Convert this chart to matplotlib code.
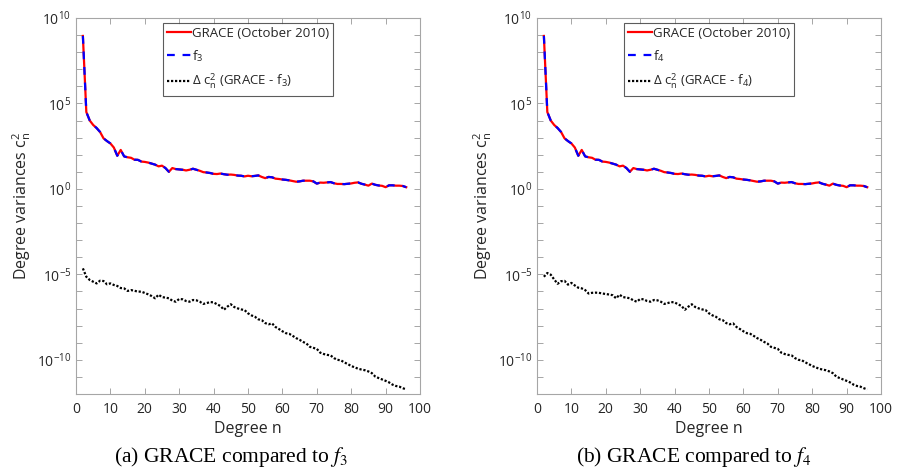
import numpy as np
import matplotlib
matplotlib.use("Agg")
import matplotlib.pyplot as plt
from matplotlib.ticker import FixedLocator, FuncFormatter

# Spherical harmonic degree
degrees = list(range(2, 97))

# log10 of the GRACE degree variances (October 2010)
grace_exp = [
    8.95, 4.50, 4.00, 3.74, 3.56, 3.33, 2.96, 2.80, 2.66, 2.42,
    1.94, 2.28, 1.90, 1.85, 1.82, 1.71, 1.70, 1.60, 1.58, 1.54,
    1.48, 1.42, 1.32, 1.36, 1.22, 1.00, 1.22, 1.16, 1.14, 1.12,
    1.08, 1.12, 1.18, 1.12, 1.06, 0.98, 0.96, 0.93, 0.88, 0.87,
    0.90, 0.86, 0.83, 0.84, 0.82, 0.78, 0.77, 0.73, 0.77, 0.74,
    0.76, 0.79, 0.70, 0.63, 0.70, 0.68, 0.60, 0.58, 0.55, 0.53,
    0.50, 0.46, 0.42, 0.44, 0.48, 0.48, 0.48, 0.44, 0.31, 0.37,
    0.36, 0.38, 0.40, 0.33, 0.29, 0.29, 0.28, 0.30, 0.32, 0.36,
    0.38, 0.30, 0.25, 0.19, 0.31, 0.24, 0.20, 0.18, 0.10, 0.21,
    0.21, 0.19, 0.19, 0.17, 0.10,
]

# Model degree variances (indistinguishable from GRACE at this scale)
f3_exp = list(grace_exp)
f4_exp = list(grace_exp)

# log10 of the difference degree variances
delta_f3_exp = [
    -4.65, -5.14, -5.33, -5.43, -5.53, -5.37, -5.39, -5.58, -5.53, -5.62,
    -5.68, -5.80, -5.82, -5.97, -5.92, -5.96, -6.01, -6.01, -6.09, -6.17,
    -6.27, -6.40, -6.19, -6.33, -6.36, -6.40, -6.54, -6.60, -6.44, -6.46,
    -6.56, -6.60, -6.50, -6.52, -6.60, -6.73, -6.68, -6.62, -6.64, -6.75,
    -6.85, -7.07, -6.89, -6.75, -6.91, -6.99, -7.05, -7.09, -7.28, -7.40,
    -7.48, -7.63, -7.68, -7.85, -7.92, -7.87, -8.08, -8.20, -8.33, -8.44,
    -8.48, -8.60, -8.73, -8.83, -8.95, -9.05, -9.24, -9.30, -9.36, -9.58,
    -9.66, -9.71, -9.74, -9.90, -10.00, -10.03, -10.15, -10.25, -10.36, -10.44,
    -10.52, -10.57, -10.61, -10.68, -10.78, -10.98, -11.07, -11.15, -11.23, -11.32,
    -11.45, -11.53, -11.57, -11.66, -11.73,
]

delta_f4_exp = [
    -5.14, -4.92, -5.02, -5.30, -5.55, -5.40, -5.38, -5.60, -5.50, -5.65,
    -5.78, -5.82, -5.92, -6.12, -6.08, -6.07, -6.08, -6.12, -6.15, -6.18,
    -6.22, -6.40, -6.19, -6.33, -6.36, -6.40, -6.52, -6.60, -6.44, -6.46,
    -6.56, -6.60, -6.50, -6.52, -6.60, -6.73, -6.68, -6.62, -6.64, -6.75,
    -6.85, -7.07, -6.89, -6.75, -6.91, -6.99, -7.05, -7.09, -7.28, -7.40,
    -7.48, -7.63, -7.68, -7.85, -7.92, -7.87, -8.08, -8.20, -8.33, -8.44,
    -8.48, -8.60, -8.73, -8.83, -8.95, -9.05, -9.24, -9.30, -9.36, -9.58,
    -9.66, -9.71, -9.74, -9.90, -10.00, -10.03, -10.15, -10.25, -10.36, -10.44,
    -10.52, -10.57, -10.61, -10.68, -10.78, -10.98, -11.07, -11.15, -11.23, -11.32,
    -11.45, -11.53, -11.57, -11.66, -11.73,
]

x_ticks = list(range(0, 101, 10))
y_decades = list(range(-12, 11))
y_labelled = [-10, -5, 0, 5, 10]

panels = [
    ("3", f3_exp, delta_f3_exp, "(a) GRACE compared to $f_3$"),
    ("4", f4_exp, delta_f4_exp, "(b) GRACE compared to $f_4$"),
]

plt.rcParams["font.family"] = ["Open Sans", "DejaVu Sans"]
plt.rcParams["mathtext.fontset"] = "stix"
plt.rcParams["axes.unicode_minus"] = False

TEXT = "#262626"
EDGE = "#a6a6a6"

fig = plt.figure(figsize=(8.97, 4.76), dpi=100)
lefts = [76 / 897, 537 / 897]
caption_x = [231 / 897, 694 / 897]


def decade_label(v, pos):
    k = int(round(np.log10(v)))
    if k in y_labelled:
        return r"$\mathregular{10^{%d}}$" % k
    return ""


for i, (idx, model_exp, delta_exp, caption) in enumerate(panels):
    ax = fig.add_axes([lefts[i], 1 - 394 / 476, 344 / 897, 376 / 476])
    n = np.array(degrees)
    ax.semilogy(n, 10.0 ** np.array(grace_exp), color="#ff0000", lw=1.6,
                label="GRACE (October 2010)")
    ax.semilogy(n, 10.0 ** np.array(model_exp), color="#0000ff", lw=1.6,
                dashes=(3.5, 3.5), label=r"f$_\mathregular{%s}$" % idx)
    ax.semilogy(n, 10.0 ** np.array(delta_exp), color="black", lw=1.6,
                dashes=(1, 0.8),
                label=r"Δ c$_\mathregular{n}^\mathregular{2}$ (GRACE - f$_\mathregular{%s}$)" % idx)

    ax.set_xlim(0, 100)
    ax.set_ylim(1e-12, 1e10)
    ax.xaxis.set_major_locator(FixedLocator(x_ticks))
    ax.yaxis.set_major_locator(FixedLocator([10.0 ** k for k in y_decades]))
    ax.yaxis.set_major_formatter(FuncFormatter(decade_label))
    ax.yaxis.set_minor_locator(FixedLocator([]))
    ax.tick_params(axis="both", which="both", direction="in", top=True,
                   right=True, length=4, width=0.7, color=EDGE,
                   labelcolor=TEXT, labelsize=10)
    ax.tick_params(axis="x", pad=6)
    for s in ax.spines.values():
        s.set_color(EDGE)
        s.set_linewidth(0.8)

    ax.set_xlabel("Degree n", fontsize=11.5, color=TEXT, labelpad=3)
    ax.set_ylabel(r"Degree variances c$_\mathregular{n}^\mathregular{2}$",
                  fontsize=11.5, color=TEXT, labelpad=3)

    leg = ax.legend(loc="upper center", bbox_to_anchor=(0.5, 0.987),
                    fontsize=9.5, frameon=True, fancybox=False,
                    handlelength=1.8, handletextpad=0.1, borderpad=0.3,
                    labelspacing=0.62, borderaxespad=0.0)
    leg.get_frame().set_edgecolor("#333333")
    leg.get_frame().set_linewidth(0.8)
    for t in leg.get_texts():
        t.set_color(TEXT)

    fig.text(caption_x[i], 1 - 457 / 476, caption, ha="center", va="center",
             fontsize=15.5, family="Liberation Serif", color="black")

fig.savefig("out.png", dpi=100)
